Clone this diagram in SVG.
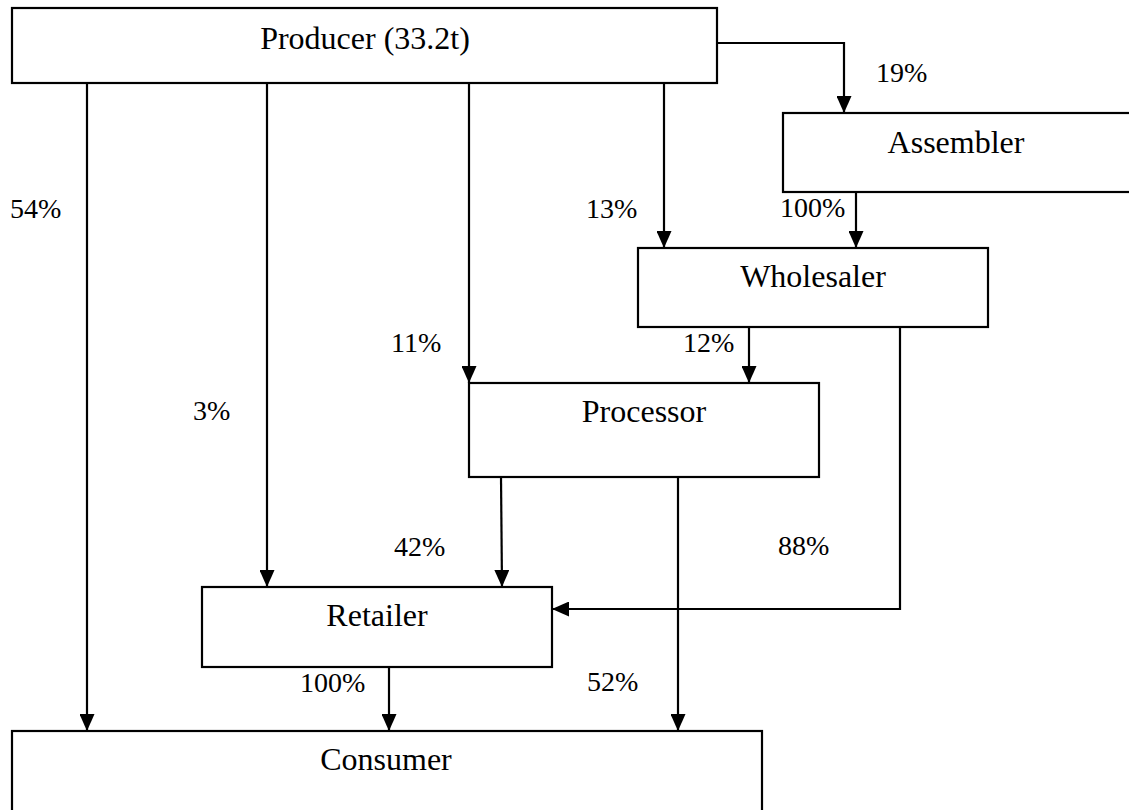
<svg xmlns="http://www.w3.org/2000/svg" width="1129" height="810" viewBox="0 0 1129 810">
<style>
.box{fill:#fff;stroke:#000;stroke-width:2.2}
.lbl{font-size:32px;fill:#000;text-anchor:middle}
.pct{font-size:28px;fill:#000}
.edge{fill:none;stroke:#000;stroke-width:2.2;marker-end:url(#arr)}
</style>
<defs>
<marker id="arr" markerUnits="userSpaceOnUse" markerWidth="17" markerHeight="15" viewBox="0 0 17 15" refX="17" refY="7.5" orient="auto">
<path d="M0,0 L17,7.5 L0,15 z" fill="#000"/>
</marker>
</defs>
<rect width="1129" height="810" fill="#fff"/>
<g font-family="Liberation Serif, Tinos, DejaVu Serif, serif">
<g id="producer"><rect class="box" x="12" y="8" width="705" height="75"/><text class="lbl" x="365" y="49">Producer (33.2t)</text></g>
<g id="assembler"><rect class="box" x="783" y="113" width="350" height="79"/><text class="lbl" x="956" y="153">Assembler</text></g>
<g id="wholesaler"><rect class="box" x="638" y="248" width="350" height="79"/><text class="lbl" x="813" y="287">Wholesaler</text></g>
<g id="processor"><rect class="box" x="469" y="383" width="350" height="94"/><text class="lbl" x="644" y="422">Processor</text></g>
<g id="retailer"><rect class="box" x="202" y="587" width="350" height="80"/><text class="lbl" x="377" y="626">Retailer</text></g>
<g id="consumer"><rect class="box" x="12" y="731" width="750" height="90"/><text class="lbl" x="386" y="770">Consumer</text></g>
<g id="connectors">
<path class="edge" d="M717,43 H844 V113"/>
<path class="edge" d="M87,83 V731"/>
<path class="edge" d="M267,83 V587"/>
<path class="edge" d="M469,83 V383"/>
<path class="edge" d="M664,83 V248"/>
<path class="edge" d="M856,192 V248"/>
<path class="edge" d="M749,327 V383"/>
<path class="edge" d="M900,327 V609 H552"/>
<path class="edge" d="M501,477 L502,587"/>
<path class="edge" d="M678,477 V731"/>
<path class="edge" d="M389,667 V731"/>
</g>
<g id="labels">
<text class="pct" x="876" y="82">19%</text>
<text class="pct" x="10" y="218">54%</text>
<text class="pct" x="586" y="218">13%</text>
<text class="pct" x="780" y="217">100%</text>
<text class="pct" x="391" y="352">11%</text>
<text class="pct" x="683" y="352">12%</text>
<text class="pct" x="193" y="420">3%</text>
<text class="pct" x="394" y="556">42%</text>
<text class="pct" x="778" y="555">88%</text>
<text class="pct" x="300" y="692">100%</text>
<text class="pct" x="587" y="691">52%</text>
</g>
</g>
</svg>
